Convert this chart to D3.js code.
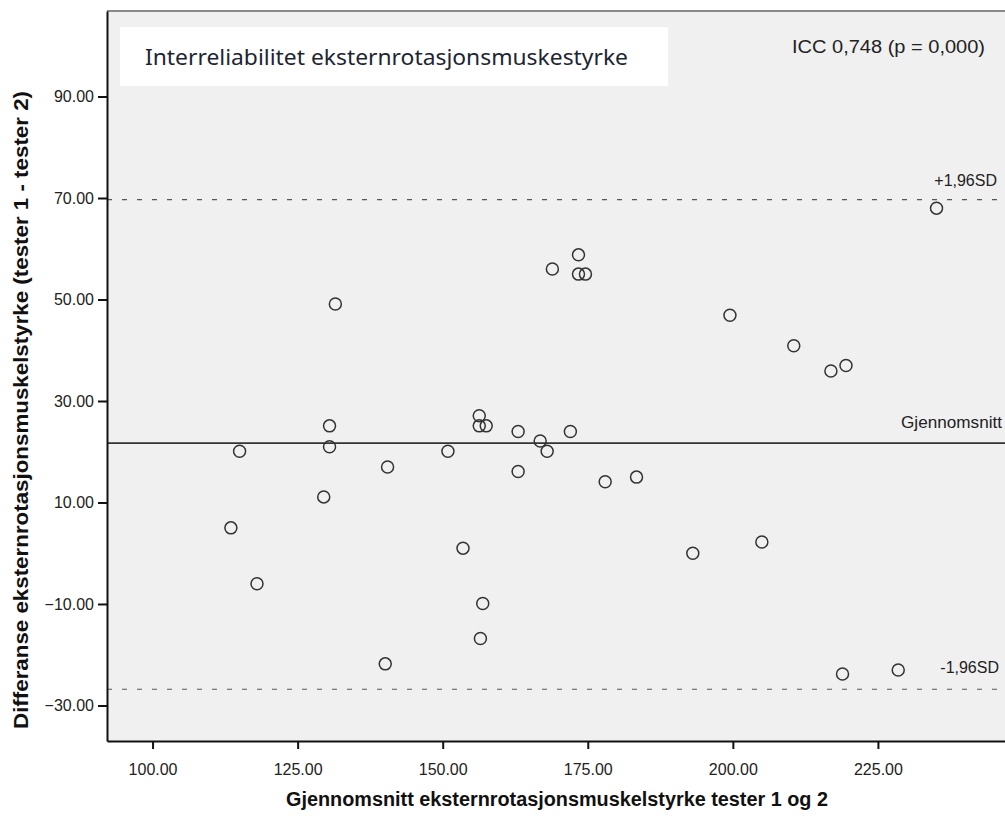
<!DOCTYPE html>
<html>
<head>
<meta charset="utf-8">
<script src="https://cdn.jsdelivr.net/npm/d3@7"></script>
<style>
  body { margin: 0; background: #fff; }
  .tick text { font-family: 'Liberation Sans Narrow', 'Arial Narrow', 'Liberation Sans', sans-serif; font-size: 16px; fill: #222; }
</style>
</head>
<body>
<div id="container"></div>
<script>
// mean of tester 1 and 2 (x) and difference tester 1 - tester 2 (y)
const meanValues = [173.4, 168.9, 173.4, 174.6, 131.5, 130.5, 156.3, 156.3, 157.5, 163.0,
                    172.0, 166.8, 115.0, 130.5, 150.9, 168.0, 140.5, 163.0, 178.0, 183.4,
                    129.5, 199.5, 210.5, 216.9, 219.5, 235.1, 113.5, 118.0, 153.5, 156.9,
                    156.5, 140.1, 193.1, 205.0, 218.9, 228.5];
const diffValues = [58.8, 56.0, 55.0, 55.0, 49.1, 25.1, 27.1, 25.1, 25.1, 24.0,
                    24.0, 22.1, 20.1, 21.0, 20.1, 20.1, 17.0, 16.1, 14.1, 15.0,
                    11.1, 46.9, 40.9, 35.9, 37.0, 68.0, 5.0, -6.0, 1.0, -9.9,
                    -16.8, -21.8, 0.0, 2.2, -23.8, -23.0];
const xTicks = [100, 125, 150, 175, 200, 225];
const yTicks = [-30, -10, 10, 30, 50, 70, 90];
const meanDiff = 21.7, upperLoA = 69.7, lowerLoA = -26.8;

const w = 1005, h = 816;
const pLeft = 107, pRight = 1005, pTop = 11, pBottom = 741;

const svg = d3.select("#container").append("svg")
    .attr("width", w).attr("height", h);

const xScale = d3.scaleLinear().domain([92.15, 246.9]).range([pLeft, pRight]);
const yScale = d3.scaleLinear().domain([106.85, -37.0]).range([pTop, pBottom]);

// plot background
svg.append("rect").attr("x", pLeft).attr("y", pTop)
    .attr("width", pRight - pLeft).attr("height", pBottom - pTop)
    .attr("fill", "#f0f0f0");
svg.append("line").attr("x1", pLeft).attr("x2", pRight).attr("y1", pTop).attr("y2", pTop)
    .attr("stroke", "#8a8a8a").attr("stroke-width", 2);

// title box
svg.append("rect").attr("x", 120).attr("y", 27).attr("width", 548).attr("height", 59)
    .attr("fill", "#fff");
svg.append("text").attr("x", 145).attr("y", 65)
    .attr("font-family", "'Noto Sans', 'Open Sans', sans-serif").attr("font-size", 22)
    .attr("fill", "#1d2533")
    .attr("textLength", 483).attr("lengthAdjust", "spacingAndGlyphs")
    .text("Interreliabilitet eksternrotasjonsmuskestyrke");

const lblFont = "'Liberation Sans', Arial, sans-serif";
svg.append("text").attr("x", 985).attr("y", 53).attr("text-anchor", "end")
    .attr("font-family", lblFont).attr("font-size", 18)
    .attr("textLength", 193).attr("lengthAdjust", "spacingAndGlyphs")
    .attr("fill", "#222").text("ICC 0,748 (p = 0,000)");

// reference lines
[upperLoA, lowerLoA].forEach(v => {
    svg.append("line").attr("x1", pLeft).attr("x2", pRight)
        .attr("y1", yScale(v)).attr("y2", yScale(v))
        .attr("stroke", "#555").attr("stroke-width", 1.2)
        .attr("stroke-dasharray", "5,10");
});
svg.append("line").attr("x1", pLeft).attr("x2", pRight)
    .attr("y1", yScale(meanDiff)).attr("y2", yScale(meanDiff))
    .attr("stroke", "#333").attr("stroke-width", 1.6);

svg.append("text").attr("x", 997).attr("y", yScale(upperLoA) - 14).attr("text-anchor", "end")
    .attr("font-family", lblFont).attr("font-size", 16).attr("fill", "#222").text("+1,96SD");
svg.append("text").attr("x", 1002).attr("y", yScale(meanDiff) - 15).attr("text-anchor", "end")
    .attr("font-family", lblFont).attr("font-size", 16)
    .attr("textLength", 101).attr("lengthAdjust", "spacingAndGlyphs")
    .attr("fill", "#222").text("Gjennomsnitt");
svg.append("text").attr("x", 999).attr("y", yScale(lowerLoA) - 16).attr("text-anchor", "end")
    .attr("font-family", lblFont).attr("font-size", 16).attr("fill", "#222").text("-1,96SD");

// points
svg.selectAll("circle.dot")
    .data(meanValues.map((m, i) => [m, diffValues[i]]))
    .enter().append("circle")
    .attr("class", "dot")
    .attr("cx", d => xScale(d[0]))
    .attr("cy", d => yScale(d[1]))
    .attr("r", 6)
    .attr("fill", "none")
    .attr("stroke", "#333")
    .attr("stroke-width", 1.5);

// axes
const xAxis = d3.axisBottom(xScale).tickValues(xTicks).tickFormat(d3.format(".2f"))
    .tickSize(8).tickSizeOuter(0);
svg.append("g").attr("transform", "translate(0," + pBottom + ")").call(xAxis)
    .call(g => g.select(".domain").attr("stroke", "#111").attr("stroke-width", 2))
    .call(g => g.selectAll(".tick line").attr("stroke", "#111").attr("stroke-width", 2))
    .call(g => g.selectAll(".tick text").attr("y", 34).attr("dy", 0));

const yAxis = d3.axisLeft(yScale).tickValues(yTicks).tickFormat(d3.format(".2f"))
    .tickSize(9).tickSizeOuter(0);
svg.append("g").attr("transform", "translate(" + pLeft + ",0)").call(yAxis)
    .call(g => g.select(".domain").attr("stroke", "#111").attr("stroke-width", 2))
    .call(g => g.selectAll(".tick line").attr("stroke", "#111").attr("stroke-width", 2))
    .call(g => g.selectAll(".tick text").attr("x", -13));

// axis titles
const titleFont = "'Liberation Sans Narrow', 'Arial Narrow', 'Liberation Sans', sans-serif";
svg.append("text").attr("x", 557).attr("y", 806).attr("text-anchor", "middle")
    .attr("font-family", titleFont).attr("font-weight", "bold").attr("font-size", 20)
    .attr("textLength", 542).attr("lengthAdjust", "spacingAndGlyphs")
    .attr("fill", "#111").text("Gjennomsnitt eksternrotasjonsmuskelstyrke tester 1 og 2");
svg.append("text").attr("transform", "translate(28,410) rotate(-90)").attr("text-anchor", "middle")
    .attr("font-family", titleFont).attr("font-weight", "bold").attr("font-size", 20)
    .attr("textLength", 638).attr("lengthAdjust", "spacingAndGlyphs")
    .attr("fill", "#111").text("Differanse eksternrotasjonsmuskelstyrke (tester 1 - tester 2)");
</script>
</body>
</html>
